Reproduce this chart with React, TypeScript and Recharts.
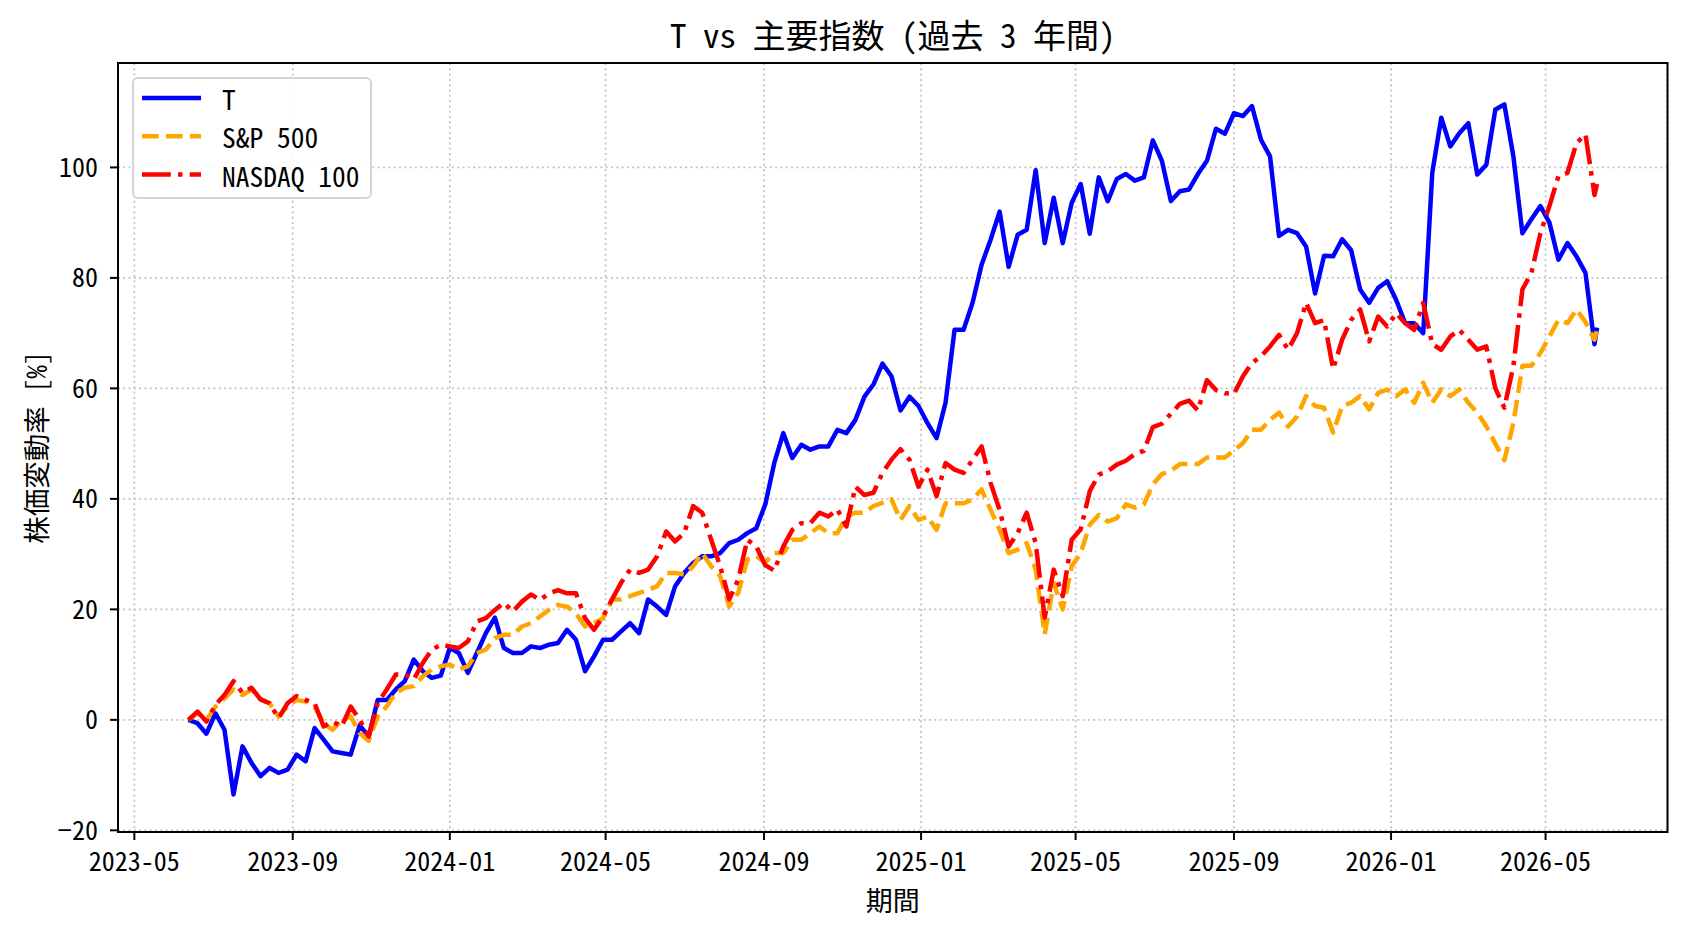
import React from 'react';
import { LineChart, Line, XAxis, YAxis, CartesianGrid, ReferenceArea } from 'recharts';

// weekly closes, % change from the first day
const dates = [
  '2023-06-12', '2023-06-19', '2023-06-26', '2023-07-03', '2023-07-10', '2023-07-17', '2023-07-24', '2023-07-31',
  '2023-08-07', '2023-08-14', '2023-08-21', '2023-08-28', '2023-09-04', '2023-09-11', '2023-09-18', '2023-09-25',
  '2023-10-02', '2023-10-09', '2023-10-16', '2023-10-23', '2023-10-30', '2023-11-06', '2023-11-13', '2023-11-20',
  '2023-11-27', '2023-12-04', '2023-12-11', '2023-12-18', '2023-12-25', '2024-01-01', '2024-01-08', '2024-01-15',
  '2024-01-22', '2024-01-29', '2024-02-05', '2024-02-12', '2024-02-19', '2024-02-26', '2024-03-04', '2024-03-11',
  '2024-03-18', '2024-03-25', '2024-04-01', '2024-04-08', '2024-04-15', '2024-04-22', '2024-04-29', '2024-05-06',
  '2024-05-13', '2024-05-20', '2024-05-27', '2024-06-03', '2024-06-10', '2024-06-17', '2024-06-24', '2024-07-01',
  '2024-07-08', '2024-07-15', '2024-07-22', '2024-07-29', '2024-08-05', '2024-08-12', '2024-08-19', '2024-08-26',
  '2024-09-02', '2024-09-09', '2024-09-16', '2024-09-23', '2024-09-30', '2024-10-07', '2024-10-14', '2024-10-21',
  '2024-10-28', '2024-11-04', '2024-11-11', '2024-11-18', '2024-11-25', '2024-12-02', '2024-12-09', '2024-12-16',
  '2024-12-23', '2024-12-30', '2025-01-06', '2025-01-13', '2025-01-20', '2025-01-27', '2025-02-03', '2025-02-10',
  '2025-02-17', '2025-02-24', '2025-03-03', '2025-03-10', '2025-03-17', '2025-03-24', '2025-03-31', '2025-04-07',
  '2025-04-14', '2025-04-21', '2025-04-28', '2025-05-05', '2025-05-12', '2025-05-19', '2025-05-26', '2025-06-02',
  '2025-06-09', '2025-06-16', '2025-06-23', '2025-06-30', '2025-07-07', '2025-07-14', '2025-07-21', '2025-07-28',
  '2025-08-04', '2025-08-11', '2025-08-18', '2025-08-25', '2025-09-01', '2025-09-08', '2025-09-15', '2025-09-22',
  '2025-09-29', '2025-10-06', '2025-10-13', '2025-10-20', '2025-10-27', '2025-11-03', '2025-11-10', '2025-11-17',
  '2025-11-24', '2025-12-01', '2025-12-08', '2025-12-15', '2025-12-22', '2025-12-29', '2026-01-05', '2026-01-12',
  '2026-01-19', '2026-01-26', '2026-02-02', '2026-02-09', '2026-02-16', '2026-02-23', '2026-03-02', '2026-03-09',
  '2026-03-16', '2026-03-23', '2026-03-30', '2026-04-06', '2026-04-13', '2026-04-20', '2026-04-27', '2026-05-04',
  '2026-05-11', '2026-05-18', '2026-05-25', '2026-06-01', '2026-06-08', '2026-06-10',
];

const tValues = [
  0, -0.6, -2.5, 1.2, -1.8, -13.5, -4.8, -7.8, -10.2, -8.7, -9.6, -9, -6.3, -7.5, -1.5, -3.6,
  -5.7, -6, -6.3, -1, -3, 3.6, 3.6, 5.5, 7, 10.9, 8.8, 7.6, 8, 13, 12.1, 8.5,
  12.1, 15.7, 18.5, 13, 12.1, 12.1, 13.3, 13, 13.6, 13.9, 16.3, 14.5, 8.8, 11.5, 14.5, 14.5,
  16, 17.5, 15.7, 21.8, 20.5, 19, 24.2, 26.6, 28.4, 29.6, 29.6, 30.2, 32, 32.6, 33.8, 34.7,
  39, 46.5, 51.9, 47.4, 49.8, 48.9, 49.5, 49.5, 52.5, 51.9, 54.3, 58.5, 60.7, 64.5, 62.2, 56,
  58.5, 56.8, 53.7, 51, 57.4, 70.6, 70.6, 75.5, 82.4, 86.9, 92, 82, 87.8, 88.7, 99.5, 86.3,
  94.5, 86.3, 93.6, 97, 88, 98.2, 93.9, 97.9, 98.8, 97.6, 98.2, 104.9, 101.2, 93.9, 95.7, 96,
  98.8, 101.2, 107, 106.1, 109.8, 109.3, 111.1, 105, 102, 87.6, 88.7, 88.1, 85.7, 77.2, 84, 83.9,
  87, 85, 77.9, 75.5, 78.2, 79.4, 76, 71.8, 71.8, 70, 99, 109, 103.8, 106.2, 108, 98.7,
  100.5, 110.5, 111.4, 102, 88.1, 90.6, 93, 90, 83.3, 86.3, 83.9, 80.9, 68, 71,
];

const spValues = [
  0, 1.2, 0, 2.4, 3.9, 5.5, 4.5, 5.5, 3.7, 3, 0.6, 2.5, 3.6, 3.3, 2.4, -0.6,
  -1.8, 0, 0.6, -2.4, -3.8, 0.6, 2.4, 4.9, 5.8, 6.1, 7.9, 9.1, 9.7, 10, 9.1, 9.7,
  12.1, 12.7, 14.8, 15.4, 15.4, 16.9, 17.5, 18.7, 19.9, 20.8, 20.5, 19.3, 16.9, 17.5, 18.4, 21.8,
  21.8, 22.4, 23, 23.5, 24.2, 26.6, 26.6, 26.3, 27.8, 30.2, 27.8, 26, 20.5, 23, 29, 29.6,
  28.5, 30.2, 30.2, 32.6, 32.6, 33.8, 35, 33.8, 33.8, 36.8, 37.5, 37.5, 38.7, 39.3, 39.9, 36.2,
  38.7, 36.2, 36.8, 34.4, 39.2, 39.2, 39.2, 39.9, 41.7, 38, 34.4, 30.2, 30.8, 32, 27.2, 15.5,
  24.8, 20, 27.8, 30.2, 35.3, 37.1, 35.9, 36.5, 39, 38.4, 39, 42.6, 44.5, 45.1, 46.3, 46.3,
  46.3, 47.5, 47.5, 47.5, 48.8, 50.1, 52.5, 52.5, 54.3, 55.6, 53.1, 54.9, 58.6, 56.8, 56.5, 52,
  56.8, 57.4, 58.6, 56.2, 59.2, 59.8, 58.6, 59.8, 57.4, 61, 57.4, 59.8, 58.6, 59.8, 57.4, 55.6,
  53.1, 50, 47, 53.7, 64.1, 64.1, 66.4, 69.4, 72.4, 71.8, 74.3, 72, 68.8, 70.6,
];

const ndxValues = [
  0, 1.5, -0.3, 2.7, 4.5, 7, 4.9, 5.8, 3.7, 3, 0.3, 3, 4.3, 3.6, 3, -1.2,
  -0.3, -1.2, 2.4, 0, -3, 3, 5.5, 8.2, 8.2, 7.3, 10.3, 12.7, 13.6, 13.3, 13, 14.2,
  17.8, 18.4, 19.9, 21.2, 19.6, 21.4, 22.7, 21.7, 22.9, 23.5, 22.9, 22.9, 18.4, 16.3, 18.7, 21.8,
  24.8, 27.2, 26.6, 27.2, 29.6, 34.1, 32.3, 33.8, 38.7, 37.5, 32.6, 27.8, 21.8, 25.4, 32.6, 31.4,
  28, 27, 31.4, 34.4, 35.6, 35.6, 37.5, 36.8, 38.1, 35, 42.2, 40.7, 41.1, 44.7, 47.1, 49,
  47.1, 42.2, 45.3, 40.5, 46.5, 45.3, 44.7, 47.1, 49.5, 42.9, 38, 31.4, 33.8, 37.5, 32, 18.5,
  27.2, 22.4, 32.6, 34.5, 41.4, 44.4, 45, 46.2, 46.9, 48.1, 48.7, 53, 53.6, 55.4, 57.2, 57.8,
  56, 61.5, 59.7, 59.1, 59, 62.2, 64.6, 65.8, 67.6, 69.7, 67, 70, 75.5, 71.8, 72.4, 63.5,
  68.8, 72.4, 74.3, 68.5, 73, 71.2, 73.6, 71.8, 70.6, 75.5, 68, 67, 69.4, 70.6, 68.8, 67,
  67.6, 60, 56.5, 64.1, 77.9, 80.9, 88.1, 93, 98.4, 99, 104.4, 106, 95, 97,
];

const seriesNames = ['T', 'S&P 500', 'NASDAQ 100'];
const xTickLabels = ['2023-05', '2023-09', '2024-01', '2024-05', '2024-09', '2025-01', '2025-05', '2025-09', '2026-01', '2026-05'];
const yTicks = [-20, 0, 20, 40, 60, 80, 100];

const FONT = "'Noto Sans Mono CJK JP', 'Noto Sans CJK JP', sans-serif";
const W = 1688;
const H = 932;

const toMs = (s: string) => Date.parse(s + 'T00:00:00Z');

const data = dates.map((d, i) => ({
  t: toMs(d),
  T: tValues[i],
  sp: spValues[i],
  ndx: ndxValues[i],
}));

const xTicks = xTickLabels.map((m) => toMs(m + '-01'));
const first = data[0].t;
const last = data[data.length - 1].t;
const pad = (last - first) * 0.05;
const xDomain: [number, number] = [first - pad, last + pad];
const yDomain: [number, number] = [-20.3, 118.9];

const fmtMonth = (v: number) => {
  const d = new Date(v);
  return `${d.getUTCFullYear()}-${String(d.getUTCMonth() + 1).padStart(2, '0')}`;
};
const fmtY = (v: number) => String(v).replace('-', '\u2212');

const series = [
  { key: 'T', color: '#0000ff', dash: undefined },
  { key: 'sp', color: '#ffa500', dash: '16.7 7.2' },
  { key: 'ndx', color: '#ff0000', dash: '28.8 7.2 4.5 7.2' },
];

const LegendBox = () => (
  <svg
    width={240}
    height={122}
    style={{ position: 'absolute', left: 132, top: 77, overflow: 'visible' }}
  >
    <rect x={1} y={1} width={238} height={120} rx={5} fill="rgba(255,255,255,0.85)" stroke="#d4d4d4" strokeWidth={2} />
    {series.map((s, i) => {
      const y = 21 + i * 38.3;
      return (
        <g key={s.key}>
          <line x1={10} x2={69} y1={y} y2={y} stroke={s.color} strokeWidth={4.5} strokeDasharray={s.dash} />
          <text x={90} y={y} dominantBaseline="central" fontFamily={FONT} fontSize={27.5} fill="#000">
            {seriesNames[i]}
          </text>
        </g>
      );
    })}
  </svg>
);

export default function App() {
  return (
    <div style={{ position: 'absolute', left: 0, top: 0, width: W, height: H, background: '#fff' }}>
      <div
        style={{
          position: 'absolute',
          left: 118,
          width: 1549.5,
          top: 13,
          height: 43,
          lineHeight: '43px',
          textAlign: 'center',
          fontFamily: FONT,
          fontSize: 33,
          whiteSpace: 'pre',
          color: '#000',
        }}
      >
        T vs 主要指数 (過去 3 年間)
      </div>
      <LineChart width={W} height={H} data={data} margin={{ top: 63, right: 20.5, bottom: 0, left: 0 }}>
        <CartesianGrid stroke="#c4c4c4" strokeDasharray="2 3.3" strokeWidth={1.8} />
        <XAxis
          dataKey="t"
          type="number"
          scale="linear"
          domain={xDomain}
          ticks={xTicks}
          tickFormatter={fmtMonth}
          height={100}
          axisLine={false}
          tickSize={8}
          tickMargin={13}
          tickLine={{ stroke: '#000', strokeWidth: 2 }}
          tick={{ fontFamily: FONT, fontSize: 26, fill: '#000' }}
          allowDataOverflow
          label={{
            content: (props: any) => {
              const vb = props.viewBox;
              return (
                <text x={vb.x + vb.width / 2} y={899} textAnchor="middle" dominantBaseline="central" fontFamily={FONT} fontSize={27} fill="#000">
                  期間
                </text>
              );
            },
          }}
        />
        <YAxis
          type="number"
          domain={yDomain}
          ticks={yTicks}
          tickFormatter={fmtY}
          width={118}
          axisLine={false}
          tickSize={8}
          tickMargin={12}
          tickLine={{ stroke: '#000', strokeWidth: 2 }}
          tick={{ fontFamily: FONT, fontSize: 26, fill: '#000' }}
          allowDataOverflow
          label={{
            content: (props: any) => {
              const vb = props.viewBox;
              const cy = vb.y + vb.height / 2;
              return (
                <text
                  x={34.5}
                  y={cy}
                  transform={`rotate(-90 34.5 ${cy})`}
                  textAnchor="middle"
                  dominantBaseline="central"
                  fontFamily={FONT}
                  fontSize={27.5}
                  fill="#000"
                >
                  株価変動率 [%]
                </text>
              );
            },
          }}
        />
        {series.map((s) => (
          <Line
            key={s.key}
            type="linear"
            dataKey={s.key}
            stroke={s.color}
            strokeWidth={4.5}
            strokeDasharray={s.dash}
            strokeLinejoin="round"
            dot={false}
            activeDot={false}
            isAnimationActive={false}
          />
        ))}
        <ReferenceArea
          x1={xDomain[0]}
          x2={xDomain[1]}
          y1={yDomain[0]}
          y2={yDomain[1]}
          fill="none"
          stroke="#000"
          strokeWidth={2}
          ifOverflow="visible"
        />
      </LineChart>
      <LegendBox />
    </div>
  );
}
